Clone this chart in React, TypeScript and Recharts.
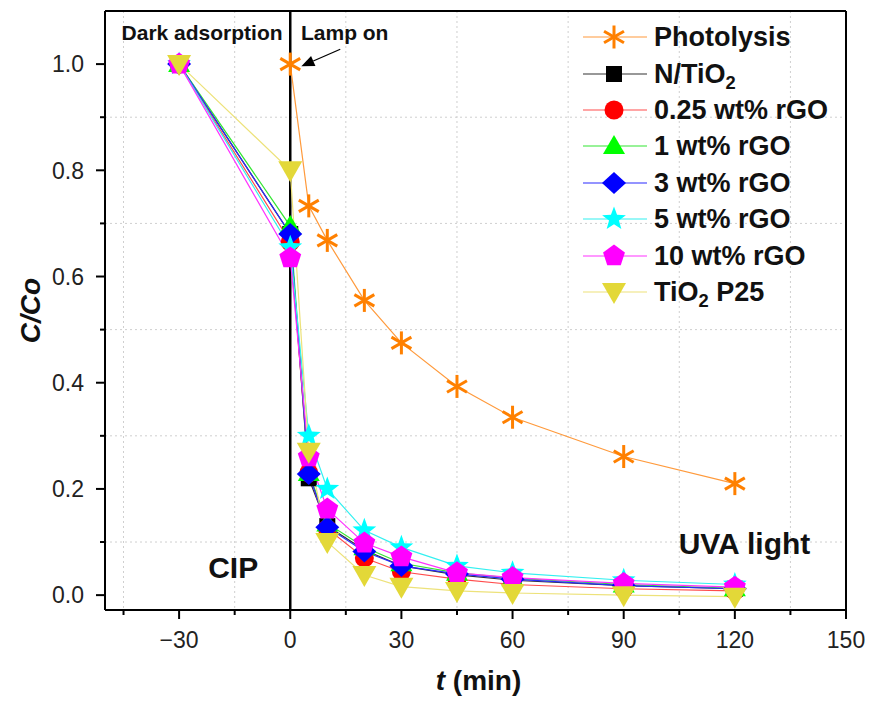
import React from "react";
import {
  LineChart,
  Line,
  XAxis,
  YAxis,
  CartesianGrid,
  Legend,
  ReferenceLine,
  ReferenceDot,
} from "recharts";

// sampling times (min), -30 = start of dark adsorption
const times = [-30, 0, 5, 10, 20, 30, 45, 60, 90, 120];

const photolysis = [null, 1.0, 0.733, 0.668, 0.555, 0.475, 0.393, 0.335, 0.261, 0.21];
const nTiO2 = [1.0, 0.68, 0.22, 0.13, 0.085, 0.055, 0.038, 0.028, 0.018, 0.012];
const rgo025 = [1.0, 0.665, 0.23, 0.125, 0.07, 0.044, 0.03, 0.02, 0.012, 0.008];
const rgo1 = [1.0, 0.695, 0.23, 0.135, 0.09, 0.06, 0.042, 0.032, 0.02, 0.013];
const rgo3 = [1.0, 0.68, 0.228, 0.128, 0.082, 0.055, 0.04, 0.03, 0.018, 0.012];
const rgo5 = [1.0, 0.655, 0.3, 0.2, 0.122, 0.09, 0.055, 0.042, 0.028, 0.02];
const rgo10 = [1.0, 0.635, 0.26, 0.162, 0.098, 0.072, 0.042, 0.033, 0.022, 0.015];
const p25 = [1.0, 0.8, 0.27, 0.1, 0.038, 0.016, 0.008, 0.004, 0.0, -0.003];

const xTicks = [-45, -30, -15, 0, 15, 30, 45, 60, 75, 90, 105, 120, 135, 150];
const yTicks = [0, 0.1, 0.2, 0.3, 0.4, 0.5, 0.6, 0.7, 0.8, 0.9, 1.0];
const xGrid = [-45, -15, 15, 45, 75, 105, 135];
const yGrid = [0.1, 0.3, 0.5, 0.7, 0.9];
const xDomain = [-50, 150];
const yDomain = [-0.028, 1.1];

type Shape = "asterisk" | "square" | "circle" | "triangle" | "diamond" | "star" | "pentagon" | "invTriangle";

const SERIES: { key: string; name: string; values: (number | null)[]; shape: Shape; fill: string; line: string }[] = [
  { key: "photolysis", name: "Photolysis", values: photolysis, shape: "asterisk", fill: "#FF8000", line: "#FF9A3C" },
  { key: "nTiO2", name: "N/TiO2", values: nTiO2, shape: "square", fill: "#000000", line: "#333333" },
  { key: "rgo025", name: "0.25 wt% rGO", values: rgo025, shape: "circle", fill: "#FF0000", line: "#FF4C4C" },
  { key: "rgo1", name: "1 wt% rGO", values: rgo1, shape: "triangle", fill: "#00FF00", line: "#33E633" },
  { key: "rgo3", name: "3 wt% rGO", values: rgo3, shape: "diamond", fill: "#0000FF", line: "#2A2AFF" },
  { key: "rgo5", name: "5 wt% rGO", values: rgo5, shape: "star", fill: "#00FFFF", line: "#33F0F0" },
  { key: "rgo10", name: "10 wt% rGO", values: rgo10, shape: "pentagon", fill: "#FF00FF", line: "#FF33FF" },
  { key: "p25", name: "TiO2 P25", values: p25, shape: "invTriangle", fill: "#E3D838", line: "#EDE27A" },
];

const data = times.map((t, i) => {
  const row: Record<string, number | null> = { t };
  SERIES.forEach((s) => (row[s.key] = s.values[i]));
  return row;
});

const FONT = "'Liberation Sans', Arial, sans-serif";

function polyPoints(cx: number, cy: number, n: number, r: number, inner?: number) {
  const pts: string[] = [];
  const count = inner ? n * 2 : n;
  for (let i = 0; i < count; i++) {
    const a = -Math.PI / 2 + (i * 2 * Math.PI) / count;
    const rr = inner && i % 2 === 1 ? inner : r;
    pts.push(`${cx + rr * Math.cos(a)},${cy + rr * Math.sin(a)}`);
  }
  return pts.join(" ");
}

function Marker({ shape, cx, cy, fill }: { shape: Shape; cx: number; cy: number; fill: string }) {
  switch (shape) {
    case "asterisk": {
      const r = 11.5;
      return (
        <g stroke={fill} strokeWidth={3}>
          {[90, 30, 150].map((deg) => {
            const a = (deg * Math.PI) / 180;
            return (
              <line key={deg} x1={cx - r * Math.cos(a)} y1={cy - r * Math.sin(a)} x2={cx + r * Math.cos(a)} y2={cy + r * Math.sin(a)} />
            );
          })}
        </g>
      );
    }
    case "square":
      return <rect x={cx - 8} y={cy - 8} width={16} height={16} fill={fill} />;
    case "circle":
      return <circle cx={cx} cy={cy} r={9.5} fill={fill} />;
    case "triangle":
      return <polygon points={`${cx},${cy - 11} ${cx + 11},${cy + 8} ${cx - 11},${cy + 8}`} fill={fill} />;
    case "diamond":
      return <polygon points={`${cx},${cy - 11} ${cx + 12},${cy} ${cx},${cy + 11} ${cx - 12},${cy}`} fill={fill} />;
    case "star":
      return <polygon points={polyPoints(cx, cy, 5, 12.5, 5.2)} fill={fill} />;
    case "pentagon":
      return <polygon points={polyPoints(cx, cy, 5, 11.5)} fill={fill} />;
    case "invTriangle":
      return <polygon points={`${cx - 12},${cy - 9} ${cx + 12},${cy - 9} ${cx},${cy + 12}`} fill={fill} />;
  }
  return null;
}

const XTick = (props: any) => {
  const { x, y, payload } = props;
  const v = payload.value as number;
  const major = v % 30 === 0;
  return (
    <g>
      <line x1={x} x2={x} y1={y} y2={y + (major ? 9 : 5)} stroke="#000" strokeWidth={2} />
      {major && (
        <text x={x} y={y + 38} textAnchor="middle" fontSize={23} fontFamily={FONT} fill="#222">
          {v < 0 ? `\u2212${Math.abs(v)}` : v}
        </text>
      )}
    </g>
  );
};

const YTick = (props: any) => {
  const { x, y, payload } = props;
  const v = payload.value as number;
  const major = Math.round(v * 10) % 2 === 0;
  return (
    <g>
      <line x1={x} x2={x - (major ? 9 : 5)} y1={y} y2={y} stroke="#000" strokeWidth={2} />
      {major && (
        <text x={x - 21} y={y} dy="0.36em" textAnchor="end" fontSize={23} fontFamily={FONT} fill="#222">
          {v.toFixed(1)}
        </text>
      )}
    </g>
  );
};

function nameWithSub(name: string) {
  const parts = name.split("TiO2");
  return parts.map((p, i) => (
    <React.Fragment key={i}>
      {p}
      {i < parts.length - 1 && (
        <>
          TiO<sub style={{ fontSize: "0.68em", verticalAlign: "-0.32em", lineHeight: 0 }}>2</sub>
        </>
      )}
    </React.Fragment>
  ));
}

const renderLegend = () => (
  <div style={{ fontFamily: FONT }}>
    {SERIES.map((s) => (
      <div key={s.key} style={{ display: "flex", alignItems: "center", height: 36.4 }}>
        <svg width={64} height={30}>
          <line x1={0} x2={64} y1={15} y2={15} stroke={s.line} strokeWidth={1.2} />
          <Marker shape={s.shape} cx={31} cy={15} fill={s.fill} />
        </svg>
        <span style={{ marginLeft: 7, fontSize: 27, fontWeight: "bold", color: "#111", lineHeight: "36px" }}>
          {nameWithSub(s.name)}
        </span>
      </div>
    ))}
  </div>
);

const arrowShape = (props: any) => {
  const { x1, y1, x2, y2 } = props;
  const ang = Math.atan2(y2 - y1, x2 - x1);
  const L = 13;
  const W = 5.5;
  const bx = x2 - L * Math.cos(ang);
  const by = y2 - L * Math.sin(ang);
  const px = -Math.sin(ang) * W;
  const py = Math.cos(ang) * W;
  return (
    <g>
      <line x1={x1} y1={y1} x2={bx} y2={by} stroke="#000" strokeWidth={1.3} />
      <polygon points={`${x2},${y2} ${bx + px},${by + py} ${bx - px},${by - py}`} fill="#000" />
    </g>
  );
};

const annot = (x: number, y: number, text: string, size: number) => (
  <ReferenceDot
    key={text}
    x={x}
    y={y}
    r={0}
    fill="none"
    stroke="none"
    label={{ value: text, position: "center", fontSize: size, fontWeight: "bold", fill: "#111", fontFamily: FONT }}
  />
);

export default function App() {
  return (
    <div style={{ position: "absolute", left: 0, top: 0, background: "#fff" }}>
      <LineChart width={869} height={701} data={data} margin={{ top: 11, right: 23, left: 0, bottom: 0 }}>
        <CartesianGrid
          stroke="#cfcfcf"
          strokeDasharray="2 3"
          horizontalValues={yGrid}
          verticalValues={xGrid}
        />
        <XAxis
          dataKey="t"
          type="number"
          domain={xDomain}
          ticks={xTicks}
          interval={0}
          allowDataOverflow
          height={91}
          tickLine={false}
          tickSize={0}
          tickMargin={0}
          tick={<XTick />}
          axisLine={{ stroke: "#000", strokeWidth: 2 }}
          label={{
            content: ({ viewBox }: any) => (
              <text
                x={viewBox.x + viewBox.width / 2 + 3}
                y={viewBox.y + 80}
                textAnchor="middle"
                fontSize={28}
                fontWeight="bold"
                fontFamily={FONT}
                fill="#111"
              >
                <tspan fontStyle="italic">t</tspan> (min)
              </text>
            ),
          }}
        />
        <YAxis
          type="number"
          domain={yDomain}
          ticks={yTicks}
          interval={0}
          allowDataOverflow
          width={105}
          tickLine={false}
          tickSize={0}
          tickMargin={0}
          tick={<YTick />}
          axisLine={{ stroke: "#000", strokeWidth: 2 }}
          label={{
            content: ({ viewBox }: any) => {
              const cx = viewBox.x + 30;
              const cy = viewBox.y + viewBox.height / 2;
              return (
                <text
                  x={cx}
                  y={cy}
                  transform={`rotate(-90 ${cx} ${cy})`}
                  textAnchor="middle"
                  dominantBaseline="central"
                  fontSize={28}
                  fontWeight="bold"
                  fontStyle="italic"
                  fontFamily={FONT}
                  fill="#111"
                >
                  C/Co
                </text>
              );
            },
          }}
        />

        {/* top and right frame */}
        <ReferenceLine y={yDomain[1]} stroke="#000" strokeWidth={2} ifOverflow="visible" />
        <ReferenceLine x={xDomain[1]} stroke="#000" strokeWidth={2} ifOverflow="visible" />

        <ReferenceLine x={0} stroke="#000" strokeWidth={2.5} />
        <ReferenceLine segment={[{ x: 13.5, y: 1.028 }, { x: 3.0, y: 0.996 }]} shape={arrowShape} />
        {annot(-23.8, 1.059, "Dark adsorption", 21)}
        {annot(14.7, 1.059, "Lamp on", 21)}
        {annot(-15.4, 0.052, "CIP", 30)}
        {annot(122.6, 0.098, "UVA light", 30)}

        {SERIES.map((s) => (
          <Line
            key={s.key}
            dataKey={s.key}
            name={s.name}
            type="linear"
            stroke={s.line}
            strokeWidth={1.2}
            isAnimationActive={false}
            activeDot={false}
            dot={(p: any) =>
              p.cx == null || p.cy == null || p.value == null ? (
                <g key={p.index} />
              ) : (
                <Marker key={p.index} shape={s.shape} cx={p.cx} cy={p.cy} fill={s.fill} />
              )
            }
          />
        ))}

        <Legend
          layout="vertical"
          align="center"
          verticalAlign="middle"
          wrapperStyle={{ left: 583, top: 19, width: 270 }}
          content={renderLegend}
        />
      </LineChart>
    </div>
  );
}
